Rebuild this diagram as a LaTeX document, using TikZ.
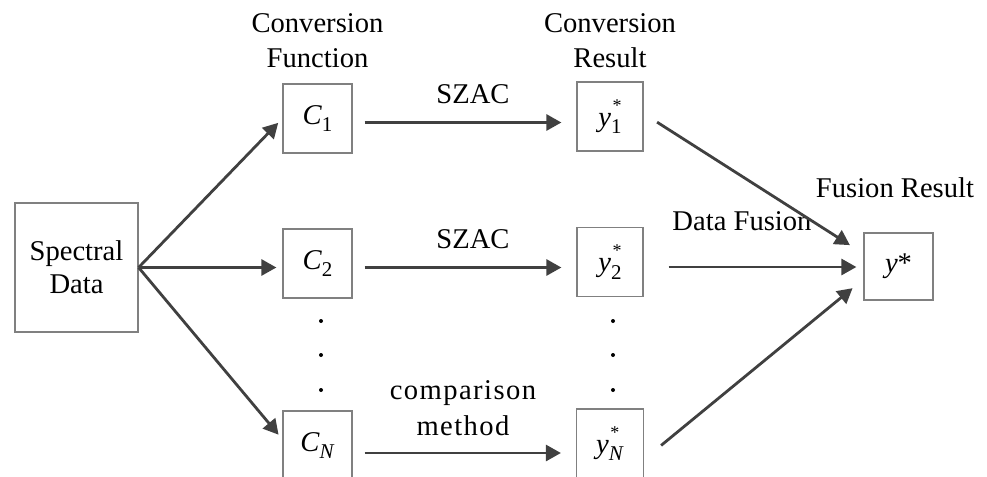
\documentclass[tikz,border=0pt]{standalone}
\usepackage{fontspec}
\setmainfont{Liberation Serif}
\newfontfamily\widefont[LetterSpace=5]{Liberation Serif}
\usetikzlibrary{arrows.meta,positioning}

\definecolor{arrowgray}{HTML}{404040}
\definecolor{boxgray}{HTML}{808080}

\tikzset{
    box/.style={draw=boxgray, line width=0.6pt, minimum width=34.5pt, minimum height=34.5pt, inner sep=0pt},
    conn/.style={draw=arrowgray, line width=1.4pt, -{Triangle[length=7.5pt,width=8pt]}},
    txt/.style={inner sep=0pt, align=center}
}

% subscripts in the boxes
\newcommand{\csub}[1]{\textit{C}\raisebox{-0.5ex}{\fontsize{10.5}{10.5}\selectfont #1}}
\newcommand{\ysub}[1]{\textit{y}\makebox[0pt][l]{\hspace{0.8pt}\raisebox{1.15ex}{\fontsize{9}{9}\selectfont *}}\raisebox{-0.55ex}{\fontsize{10.5}{10.5}\selectfont #1}}

\begin{document}
\begin{tikzpicture}[x=0.5pt, y=-0.5pt, font=\fontsize{14.3}{17.5}\selectfont]
        \clip (0,0) rectangle (987,477);

        % boxes
        \node[box, minimum width=61.5pt, minimum height=64.5pt, txt, font=\fontsize{14.3}{16.5}\selectfont] (data) at (76.5,267.5) {Spectral\\Data};
        \node[box] (C1) at (317.5,118.5) {\csub{1}};
        \node[box] (C2) at (317.5,263.5) {\csub{2}};
        \node[box] (CN) at (317.5,445.5) {\csub{\textit{N}}};
        \node[box, minimum width=33pt] (y1) at (610,116.5) {\ysub{1}};
        \node[box, minimum width=33pt] (y2) at (610,262) {\ysub{2}};
        \node[box, minimum width=33.5pt] (yN) at (610,443.5) {\ysub{\textit{N}}};
        \node[box, minimum height=33.5pt] (ystar) at (898.5,266.5) {\textit{y}*};

        % titles
        \node[txt] (convf) at (317.5,41) {Conversion\\Function};
        \node[txt] (convr) at (610,41) {Conversion\\Result};
        \node[txt, anchor=base] (fusr) at (895,197) {Fusion Result};
        \node[txt, anchor=base] (fusd) at (742,230) {Data Fusion};
        \node[txt, anchor=base] (szac1) at (473,103) {SZAC};
        \node[txt, anchor=base] (szac2) at (473,248) {SZAC};
        \node[txt, font=\fontsize{14.3}{18}\selectfont\widefont] (comp) at (463,408) {comparison\\method};

        % from the data to the functions
        \draw[conn, shorten >=3pt] (data.east) -- (C1.west);
        \draw[conn, shorten >=3pt] (data.east) -- (data.east -| C2.west);
        \draw[conn, shorten >=3pt] (data.east) -- (CN.170);

        % functions to results
        \draw[conn, shorten <=6pt, shorten >=7.5pt] ([yshift=-2pt]C1.east) -- ([yshift=-2pt]C1.east -| y1.west);
        \draw[conn, shorten <=6pt, shorten >=7.5pt] ([yshift=-2pt]C2.east) -- ([yshift=-2pt]C2.east -| y2.west);
        \draw[conn, shorten <=6pt, shorten >=7.5pt] ([yshift=-3.75pt]CN.east) -- ([yshift=-3.75pt]CN.east -| yN.west);

        % fusion
        \draw[conn, shorten <=8pt, shorten >=8pt] (y1.5) -- (ystar.160);
        \draw[conn, shorten <=12.5pt, shorten >=3.5pt] ([yshift=-2.5pt]y2.east) -- ([yshift=-2.5pt]y2.east -| ystar.west);
        \draw[conn, shorten <=11pt, shorten >=7pt] (yN.-25) -- (ystar.200);

        % dots
        \foreach \yy in {321,355,390} {
            \fill (321,\yy) circle (1pt);
            \fill (613,\yy) circle (1pt);
        }
    \end{tikzpicture}
\end{document}
